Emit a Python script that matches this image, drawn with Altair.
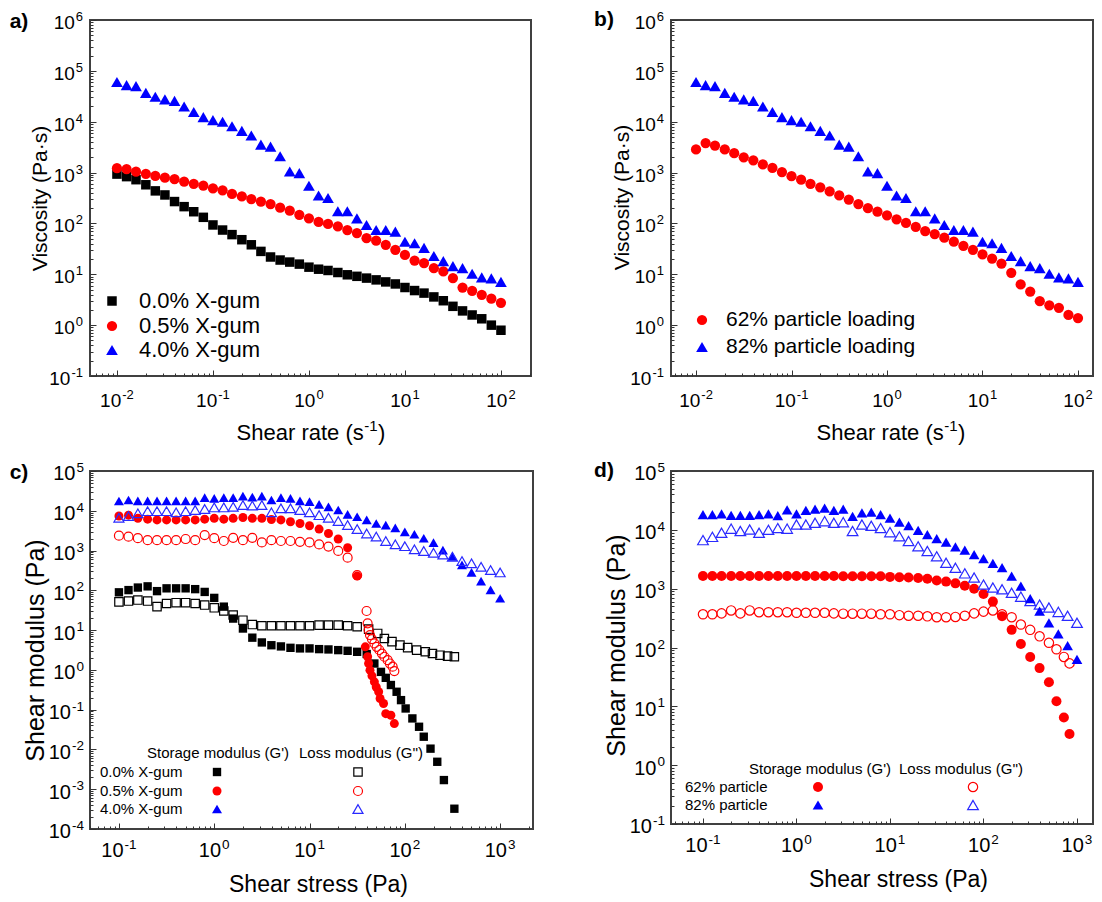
import altair as alt
import pandas as pd

FONT = "Liberation Sans"

# ---------------- data (y values stored as log10) ----------------
SHEAR_RATE = [0.01, 0.0126, 0.0158, 0.02, 0.0251, 0.0316, 0.0398, 0.0501, 0.0631, 0.0794,
              0.1, 0.126, 0.158, 0.2, 0.251, 0.316, 0.398, 0.501, 0.631, 0.794,
              1.0, 1.26, 1.58, 2.0, 2.51, 3.16, 3.98, 5.01, 6.31, 7.94,
              10.0, 12.6, 15.8, 20.0, 25.1, 31.6, 39.8, 50.1, 63.1, 79.4, 100.0]

VISC_00_LOG = [2.97, 2.92, 2.86, 2.76, 2.64, 2.56, 2.43, 2.33, 2.23, 2.12,
               1.97, 1.87, 1.78, 1.68, 1.58, 1.45, 1.34, 1.28, 1.24, 1.20,
               1.14, 1.10, 1.075, 1.035, 0.99, 0.96, 0.925, 0.89, 0.85, 0.81,
               0.74, 0.68, 0.63, 0.555, 0.48, 0.37, 0.28, 0.20, 0.125, 0.0, -0.1]
VISC_05_LOG = [3.086, 3.067, 3.02, 2.975, 2.935, 2.90, 2.87, 2.823, 2.778, 2.745,
               2.69, 2.65, 2.58, 2.53, 2.48, 2.43, 2.38, 2.31, 2.25, 2.17,
               2.10, 2.03, 1.99, 1.94, 1.87, 1.81, 1.71, 1.66, 1.58, 1.48,
               1.38, 1.27, 1.22, 1.12, 1.055, 0.925, 0.74, 0.676, 0.597, 0.52, 0.44]
VISC_40_LOG = [4.78, 4.72, 4.70, 4.567, 4.49, 4.44, 4.41, 4.30, 4.19, 4.09,
               4.03, 4.0, 3.91, 3.82, 3.73, 3.55, 3.51, 3.32, 3.02, 2.99,
               2.74, 2.55, 2.50, 2.24, 2.24, 2.10, 1.97, 1.87, 1.87, 1.84,
               1.64, 1.61, 1.52, 1.36, 1.26, 1.16, 1.12, 1.01, 0.94, 0.92, 0.85]
VISC_62_LOG = [3.454, 3.58, 3.53, 3.454, 3.38, 3.30, 3.24, 3.16, 3.09, 3.01,
               2.93, 2.86, 2.78, 2.71, 2.63, 2.55, 2.47, 2.38, 2.30, 2.23,
               2.16, 2.08, 2.01, 1.93, 1.85, 1.79, 1.72, 1.64, 1.56, 1.48,
               1.39, 1.31, 1.21, 1.03, 0.80, 0.66, 0.47, 0.39, 0.34, 0.20, 0.14]

STRESS = [0.1, 0.126, 0.158, 0.2, 0.251, 0.316, 0.398, 0.501, 0.631, 0.794,
          1.0, 1.26, 1.58, 2.0, 2.51, 3.16, 3.98, 5.01, 6.31, 7.94,
          10.0, 12.6, 15.8, 20.0, 25.1, 31.6, 39.8, 50.1, 63.1, 79.4,
          100.0, 126.0, 158.0, 200.0, 251.0, 316.0, 398.0, 501.0, 631.0, 794.0, 1000.0]

# panel c
C_BLACK_GP_STRESS = STRESS[:26] + [39.8, 47.9, 56.2, 63.1, 71.4, 82.0, 91.2, 102.0, 120.0,
                                   141.0, 158.0, 186.0, 219.0, 257.0, 331.0]
C_BLACK_GP_LOG = [1.95, 2.006, 2.07, 2.10, 1.98, 2.05, 2.05, 2.05, 2.03, 1.96,
                  1.81, 1.59, 1.29, 1.04, 0.81, 0.69, 0.62, 0.59, 0.555, 0.54,
                  0.54, 0.522, 0.514, 0.497, 0.48, 0.455,
                  0.40, 0.16, -0.05, -0.2, -0.38, -0.55, -0.76, -0.97, -1.22,
                  -1.43, -1.68, -1.98, -2.31, -2.77, -3.49]
C_BLACK_GPP_STRESS = STRESS[:26] + [41.7, 51.9, 61.0, 73.3, 88.9, 107.0, 133.0, 164.0,
                                    195.0, 234.0, 281.0, 331.0]
C_BLACK_GPP_LOG = [1.71, 1.73, 1.755, 1.73, 1.59, 1.67, 1.69, 1.69, 1.67, 1.63,
                   1.56, 1.48, 1.38, 1.25, 1.14, 1.11, 1.11, 1.11, 1.11, 1.11,
                   1.11, 1.126, 1.126, 1.126, 1.11, 1.084,
                   1.025, 0.916, 0.79, 0.71, 0.623, 0.56, 0.497, 0.455, 0.413, 0.37, 0.346, 0.33]
C_RED_GP_STRESS = STRESS[:26] + [38.5, 40.7, 41.7, 43.1, 45.2, 47.9, 50.1, 53.1, 55.0,
                                 59.8, 63.1, 71.4, 77.6]
C_RED_GP_LOG = [3.87, 3.89, 3.81, 3.79, 3.77, 3.77, 3.77, 3.77, 3.77, 3.79,
                3.81, 3.79, 3.81, 3.83, 3.81, 3.81, 3.78, 3.77, 3.725, 3.68,
                3.625, 3.54, 3.43, 3.29, 3.07, 2.36,
                0.58, 0.33, 0.16, -0.006, -0.15, -0.30, -0.43, -0.55, -0.72,
                -0.845, -1.10, -1.14, -1.35]
C_RED_GPP_STRESS = STRESS[:26] + [39.7, 40.7, 41.7, 43.1, 45.2, 47.9, 50.6, 54.0, 57.5,
                                  61.0, 66.1, 69.8, 74.5, 77.6]
C_RED_GPP_LOG = [3.373, 3.35, 3.31, 3.26, 3.26, 3.26, 3.26, 3.29, 3.26, 3.39,
                 3.31, 3.24, 3.32, 3.26, 3.32, 3.205, 3.26, 3.24, 3.24, 3.22,
                 3.205, 3.155, 3.10, 2.99, 2.82, 2.38,
                 1.48, 1.17, 1.0, 0.874, 0.774, 0.665, 0.58, 0.50, 0.41, 0.33,
                 0.245, 0.16, 0.08, -0.03]
C_BLUE_GP_LOG = [4.245, 4.27, 4.25, 4.25, 4.25, 4.25, 4.25, 4.25, 4.25, 4.33,
                 4.31, 4.33, 4.33, 4.37, 4.345, 4.37, 4.27, 4.33, 4.31, 4.25,
                 4.23, 4.16, 4.10, 4.02, 3.91, 3.85, 3.77, 3.68, 3.64, 3.57,
                 3.47, 3.41, 3.31, 3.20, 3.01, 2.85, 2.64, 2.45, 2.23, 2.01, 1.80]
C_BLUE_GPP_LOG = [3.826, 3.87, 3.935, 3.99, 3.99, 3.99, 3.96, 3.99, 4.02, 4.045,
                  4.085, 4.085, 4.10, 4.145, 4.13, 4.145, 3.96, 4.06, 4.06, 4.02,
                  3.96, 3.89, 3.826, 3.74, 3.64, 3.54, 3.43, 3.35, 3.24, 3.155,
                  3.11, 3.03, 2.99, 2.945, 2.90, 2.845, 2.735, 2.68, 2.59, 2.51, 2.45]

# panel d
D_RED_STRESS = STRESS[:38] + [603.0, 724.0, 832.0]
D_RED_GP_LOG = [3.215, 3.215, 3.215, 3.215, 3.215, 3.215, 3.215, 3.215, 3.215, 3.215,
                3.215, 3.215, 3.215, 3.215, 3.215, 3.21, 3.21, 3.21, 3.21, 3.21,
                3.20, 3.195, 3.19, 3.18, 3.17, 3.14, 3.12, 3.09, 3.05, 3.00,
                2.91, 2.78, 2.53, 2.30, 2.06, 1.84, 1.65, 1.41,
                1.085, 0.81, 0.53]
D_RED_GPP_LOG = [2.565, 2.565, 2.58, 2.63, 2.58, 2.63, 2.60, 2.60, 2.60, 2.60,
                 2.59, 2.59, 2.59, 2.59, 2.58, 2.575, 2.575, 2.575, 2.575, 2.565,
                 2.565, 2.55, 2.54, 2.54, 2.53, 2.515, 2.515, 2.52, 2.54, 2.58,
                 2.61, 2.63, 2.565, 2.515, 2.39, 2.30, 2.19, 2.08,
                 1.97, 1.84, 1.73]
D_BLUE_GP_LOG = [4.26, 4.26, 4.27, 4.245, 4.245, 4.245, 4.26, 4.27, 4.24, 4.34,
                 4.27, 4.33, 4.35, 4.37, 4.33, 4.35, 4.23, 4.29, 4.30, 4.26,
                 4.20, 4.13, 4.07, 3.99, 3.92, 3.85, 3.79, 3.71, 3.655, 3.58,
                 3.51, 3.43, 3.356, 3.215, 3.045, 2.83, 2.62, 2.42, 2.23, 2.03, 1.80]
D_BLUE_GPP_LOG = [3.825, 3.88, 3.95, 4.02, 3.98, 4.006, 3.95, 4.00, 4.03, 4.02,
                  4.09, 4.09, 4.12, 4.147, 4.12, 4.13, 3.98, 4.09, 4.07, 4.03,
                  3.96, 3.89, 3.81, 3.72, 3.64, 3.55, 3.44, 3.356, 3.26, 3.19,
                  3.07, 3.02, 2.99, 2.93, 2.864, 2.79, 2.73, 2.68, 2.605, 2.54, 2.42]

# ---------------- texts and tick labels ----------------
A_LABELS = ["0.0% X-gum", "0.5% X-gum", "4.0% X-gum"]
B_LABELS = ["62% particle loading", "82% particle loading"]
C_LABELS = ["0.0% X-gum", "0.5% X-gum", "4.0% X-gum"]
D_LABELS = ["62% particle", "82% particle"]
HEADERS = ["Storage modulus (G')", "Loss modulus (G'')"]
PANEL_TAGS = ["a)", "b)", "c)", "d)"]
RATE_TITLE = ["Shear rate (s", "-1", ")"]
VISC_TITLE = "Viscosity (Pa\u00b7s)"
STRESS_TITLE = "Shear stress (Pa)"
MODULUS_TITLE = "Shear modulus (Pa)"

AB_X_TICKS = [0.01, 0.1, 1.0, 10.0, 100.0]
AB_X_EXP = ["-2", "-1", "0", "1", "2"]
AB_Y_TICKS = [0.1, 1.0, 10.0, 100.0, 1e3, 1e4, 1e5, 1e6]
AB_Y_EXP = ["-1", "0", "1", "2", "3", "4", "5", "6"]
CD_X_TICKS = [0.1, 1.0, 10.0, 100.0, 1000.0]
CD_X_EXP = ["-1", "0", "1", "2", "3"]
C_Y_TICKS = [1e-4, 1e-3, 1e-2, 0.1, 1.0, 10.0, 100.0, 1e3, 1e4, 1e5]
C_Y_EXP = ["-4", "-3", "-2", "-1", "0", "1", "2", "3", "4", "5"]
D_Y_TICKS = [0.1, 1.0, 10.0, 100.0, 1e3, 1e4, 1e5]
D_Y_EXP = ["-1", "0", "1", "2", "3", "4", "5"]

# ---------------- helpers ----------------
MAJOR = "abs(log(datum.value)/LN10 - round(log(datum.value)/LN10)) < 0.01"
DUMMY = pd.DataFrame({"k": [0]})
W10 = 1.112  # width of "10" in em (Arial / Liberation Sans metrics)


def tick_values(lo, hi, dmin, dmax):
    out = []
    for k in range(lo, hi + 1):
        for m in range(1, 10):
            v = m * 10.0 ** k
            if dmin * 0.9999 <= v <= dmax * 1.0001:
                out.append(v)
    return out


def y_axis(values, title, tsize, tx, ty):
    kw = dict(values=values, labels=False, ticks=False, tickSize=0, domain=False, grid=True,
              gridColor="#333333", gridOpacity=1, gridWidth=1,
              gridDash={"condition": {"test": MAJOR, "value": [6, 4000]}, "value": [3, 4000]})
    if title:
        kw.update(title=title, titleFont=FONT, titleFontSize=tsize, titleFontWeight="normal",
                  titleColor="black", titleX=tx, titleY=ty, titleAlign="center",
                  titleBaseline="middle", titleAngle=270)
    else:
        kw.update(title=None)
    return alt.Axis(**kw)


def x_axis(values, title, tsize, tx, ty, h):
    kw = dict(values=values, labels=False, ticks=False, tickSize=0, domain=False, grid=True,
              gridColor="#333333", gridOpacity=1, gridWidth=1,
              gridDash={"condition": {"test": MAJOR, "value": [6, h - 6]}, "value": [3, h - 3]},
              gridDashOffset={"condition": {"test": MAJOR, "value": 6}, "value": 3})
    if title:
        kw.update(title=title, titleFont=FONT, titleFontSize=tsize, titleFontWeight="normal",
                  titleColor="black", titleX=tx, titleY=ty, titleAlign="center",
                  titleBaseline="middle", titleAngle=0)
    else:
        kw.update(title=None)
    return alt.Axis(**kw)


def x_tick_labels(vals, exps, X, h, fs, sfs, b10, bsup):
    layers = []
    for neg in (False, True):
        v = [a for a, e in zip(vals, exps) if e.startswith("-") == neg]
        ee = [e for e in exps if e.startswith("-") == neg]
        if not v:
            continue
        df = pd.DataFrame({"x": v, "e": ee})
        ws = (0.889 if neg else 0.556) * sfs
        W = W10 * fs + ws + 1
        layers.append(alt.Chart(df).mark_text(text="10", font=FONT, fontSize=fs, align="left",
                                              baseline="alphabetic", dx=-W / 2, color="black")
                      .encode(x=X, y=alt.value(h + b10)))
        layers.append(alt.Chart(df).mark_text(font=FONT, fontSize=sfs, align="left",
                                              baseline="alphabetic", dx=-W / 2 + W10 * fs + 1,
                                              color="black")
                      .encode(x=X, y=alt.value(h + bsup), text="e:N"))
    return layers


def y_tick_labels(vals, exps, Y, pad, fs, sfs):
    layers = []
    for neg in (False, True):
        v = [a for a, e in zip(vals, exps) if e.startswith("-") == neg]
        ee = [e for e in exps if e.startswith("-") == neg]
        if not v:
            continue
        df = pd.DataFrame({"y": v, "e": ee})
        ws = (0.889 if neg else 0.556) * sfs
        layers.append(alt.Chart(df).mark_text(text="10", font=FONT, fontSize=fs, align="right",
                                              baseline="alphabetic", dy=0.47 * fs, color="black")
                      .encode(x=alt.value(-pad - ws - 1), y=Y))
        layers.append(alt.Chart(df).mark_text(font=FONT, fontSize=sfs, align="right",
                                              baseline="alphabetic", dy=1, color="black")
                      .encode(x=alt.value(-pad), y=Y, text="e:N"))
    return layers


def rate_title(cx, y, fs=22, sfs=15):
    w_main = 5.78 * fs
    w_sup = 0.889 * sfs
    w_par = 0.333 * fs
    left = cx - (w_main + w_sup + w_par + 1) / 2
    return [
        txt(RATE_TITLE[0], left, y, fs, baseline="alphabetic"),
        txt(RATE_TITLE[1], left + w_main + 0.5, y - 0.42 * fs, sfs, baseline="alphabetic"),
        txt(RATE_TITLE[2], left + w_main + w_sup + 1, y, fs, baseline="alphabetic"),
    ]


def series(xs, logs, X, Y, shape, filled, color, size, sw=1.2):
    df = pd.DataFrame({"x": xs, "y": [10 ** v for v in logs]})
    return alt.Chart(df).mark_point(shape=shape, filled=filled, color=color, size=size,
                                    opacity=1, strokeWidth=sw).encode(x=X, y=Y)


def txt(s, x, y, size, align="left", weight="normal", baseline="middle"):
    return alt.Chart(DUMMY).mark_text(text=s, font=FONT, fontSize=size, fontWeight=weight,
                                      align=align, baseline=baseline, color="black").encode(
        x=alt.value(x), y=alt.value(y))


def sym(shape, filled, color, size, x, y, sw=1.2):
    return alt.Chart(DUMMY).mark_point(shape=shape, filled=filled, color=color, size=size,
                                       opacity=1, strokeWidth=sw).encode(
        x=alt.value(x), y=alt.value(y))


# ---------------- panel a ----------------
WA, HA = 441, 356
A_XD = [0.00524, 205.6]
A_YD = [0.1, 1e6]
XA = alt.X("x:Q", scale=alt.Scale(type="log", domain=A_XD, nice=False),
           axis=x_axis(tick_values(-3, 3, *A_XD), None, 0, 0, 0, HA))
YA = alt.Y("y:Q", scale=alt.Scale(type="log", domain=A_YD, nice=False),
           axis=y_axis(tick_values(-1, 6, *A_YD), VISC_TITLE, 21, -50, 178))
pa = alt.layer(
    series(SHEAR_RATE, VISC_00_LOG, XA, YA, "square", True, "black", 90),
    series(SHEAR_RATE, VISC_05_LOG, XA, YA, "circle", True, "#ff0000", 105),
    series(SHEAR_RATE, VISC_40_LOG, XA, YA, "triangle-up", True, "#0000ff", 137),
    *x_tick_labels(AB_X_TICKS, AB_X_EXP, XA, HA, 19, 13, 31, 23),
    *y_tick_labels(AB_Y_TICKS, AB_Y_EXP, YA, 7, 19, 13),
    *rate_title(221, HA + 64),
    sym("square", True, "black", 90, 22, 281),
    sym("circle", True, "#ff0000", 105, 22, 306),
    sym("triangle-up", True, "#0000ff", 137, 22, 330),
    txt(A_LABELS[0], 49, 281, 22), txt(A_LABELS[1], 49, 306, 22), txt(A_LABELS[2], 49, 330, 22),
    txt(PANEL_TAGS[0], -71, 2, 21, "center", "bold"),
).properties(width=WA, height=HA)

# ---------------- panel b ----------------
WB, HB = 422, 356
B_XD = [0.00547, 143.6]
B_YD = [0.1, 1e6]
XB = alt.X("x:Q", scale=alt.Scale(type="log", domain=B_XD, nice=False),
           axis=x_axis(tick_values(-3, 3, *B_XD), None, 0, 0, 0, HB))
YB = alt.Y("y:Q", scale=alt.Scale(type="log", domain=B_YD, nice=False),
           axis=y_axis(tick_values(-1, 6, *B_YD), VISC_TITLE, 21, -49, 177))
pb = alt.layer(
    series(SHEAR_RATE, VISC_62_LOG, XB, YB, "circle", True, "#ff0000", 105),
    series(SHEAR_RATE, VISC_40_LOG, XB, YB, "triangle-up", True, "#0000ff", 137),
    *x_tick_labels(AB_X_TICKS, AB_X_EXP, XB, HB, 19, 13, 31, 23),
    *y_tick_labels(AB_Y_TICKS, AB_Y_EXP, YB, 7, 19, 13),
    *rate_title(220, HB + 64),
    sym("circle", True, "#ff0000", 105, 31, 300),
    sym("triangle-up", True, "#0000ff", 137, 31, 327),
    txt(B_LABELS[0], 55, 300, 21), txt(B_LABELS[1], 55, 327, 21),
    txt(PANEL_TAGS[1], -67, 0, 21, "center", "bold"),
).properties(width=WB, height=HB)

# ---------------- panel c ----------------
WC, HC = 443, 358
C_XD = [0.0497, 2213.0]
C_YD = [1e-4, 1e5]
XC = alt.X("x:Q", scale=alt.Scale(type="log", domain=C_XD, nice=False),
           axis=x_axis(tick_values(-2, 3, *C_XD), STRESS_TITLE, 23, 228, 55, HC))
YC = alt.Y("y:Q", scale=alt.Scale(type="log", domain=C_YD, nice=False),
           axis=y_axis(tick_values(-4, 5, *C_YD), MODULUS_TITLE, 25, -55, 179))
pc = alt.layer(
    series(C_BLACK_GP_STRESS, C_BLACK_GP_LOG, XC, YC, "square", True, "black", 70),
    series(C_BLACK_GPP_STRESS, C_BLACK_GPP_LOG, XC, YC, "square", False, "black", 70),
    series(C_RED_GP_STRESS, C_RED_GP_LOG, XC, YC, "circle", True, "#ff0000", 81),
    series(C_RED_GPP_STRESS, C_RED_GPP_LOG, XC, YC, "circle", False, "#ff0000", 81),
    series(STRESS, C_BLUE_GP_LOG, XC, YC, "triangle-up", True, "#0000ff", 100),
    series(STRESS, C_BLUE_GPP_LOG, XC, YC, "triangle-up", False, "#2a2aff", 100),
    *x_tick_labels(CD_X_TICKS, CD_X_EXP, XC, HC, 20, 13.5, 28, 20),
    *y_tick_labels(C_Y_TICKS, C_Y_EXP, YC, 6, 20, 13.5),
    txt(HEADERS[0], 57, 282, 15), txt(HEADERS[1], 209, 282, 15),
    txt(C_LABELS[0], 10, 301, 15), txt(C_LABELS[1], 10, 320, 15), txt(C_LABELS[2], 10, 338, 15),
    sym("square", True, "black", 70, 127, 301), sym("square", False, "black", 70, 268, 301),
    sym("circle", True, "#ff0000", 81, 127, 320), sym("circle", False, "#ff0000", 81, 268, 320),
    sym("triangle-up", True, "#0000ff", 100, 127, 338),
    sym("triangle-up", False, "#2a2aff", 100, 268, 338),
    txt(PANEL_TAGS[2], -71, 2, 21, "center", "bold"),
).properties(width=WC, height=HC)

# ---------------- panel d ----------------
WD, HD = 422, 353
D_XD = [0.0455, 1483.0]
D_YD = [0.1, 1e5]
XD = alt.X("x:Q", scale=alt.Scale(type="log", domain=D_XD, nice=False),
           axis=x_axis(tick_values(-2, 3, *D_XD), STRESS_TITLE, 23, 227, 55, HD))
YD = alt.Y("y:Q", scale=alt.Scale(type="log", domain=D_YD, nice=False),
           axis=y_axis(tick_values(-1, 5, *D_YD), MODULUS_TITLE, 25, -55, 174))
pd_ = alt.layer(
    series(D_RED_STRESS, D_RED_GP_LOG, XD, YD, "circle", True, "#ff0000", 100),
    series(D_RED_STRESS, D_RED_GPP_LOG, XD, YD, "circle", False, "#ff0000", 87),
    series(STRESS, D_BLUE_GPP_LOG, XD, YD, "triangle-up", False, "#2a2aff", 114),
    series(STRESS, D_BLUE_GP_LOG, XD, YD, "triangle-up", True, "#0000ff", 114),
    *x_tick_labels(CD_X_TICKS, CD_X_EXP, XD, HD, 20, 13.5, 28, 20),
    *y_tick_labels(D_Y_TICKS, D_Y_EXP, YD, 6, 20, 13.5),
    txt(HEADERS[0], 78, 298, 15), txt(HEADERS[1], 228, 298, 15),
    txt(D_LABELS[0], 14, 316, 15), txt(D_LABELS[1], 14, 334, 15),
    sym("circle", True, "#ff0000", 100, 147, 316), sym("circle", False, "#ff0000", 87, 302, 316),
    sym("triangle-up", True, "#0000ff", 114, 147, 334),
    sym("triangle-up", False, "#2a2aff", 114, 302, 334),
    txt(PANEL_TAGS[3], -67, 0, 21, "center", "bold"),
).properties(width=WD, height=HD)

chart = alt.concat(pa, pb, pc, pd_, columns=2, spacing={"row": 95, "column": 138},
                   bounds="flush").properties(padding=0).configure_view(
    stroke="#404040", strokeWidth=2)

chart.save("out.html", embed_options={"renderer": "svg", "actions": False})
